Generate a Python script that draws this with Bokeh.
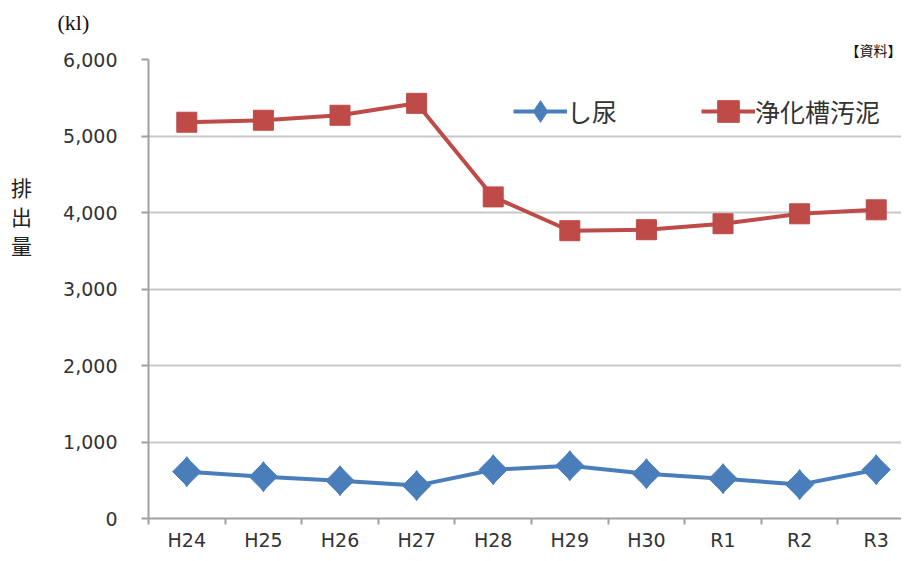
import math
from bokeh.plotting import figure
from bokeh.models import (Range1d, FixedTicker, NumeralTickFormatter, Legend, LegendItem, Title)
from bokeh.embed import file_html
from bokeh.resources import INLINE

categories = ["H24", "H25", "H26", "H27", "H28", "H29", "H30", "R1", "R2", "R3"]
shinyo = [612, 547, 495, 430, 638, 690, 586, 521, 443, 638]
johkaso = [5180, 5206, 5271, 5427, 4204, 3762, 3775, 3853, 3983, 4035]
y_ticks = [0, 1000, 2000, 3000, 4000, 5000, 6000]
series_names = ["し尿", "浄化槽汚泥"]
unit_text = "(kl)"
y_title = "排出量"
source_text = "【資料】"

BLUE = "#4a7ebb"
RED = "#be4b48"
AXIS = "#a0a0a0"

xs = [i + 0.5 for i in range(len(categories))]

p = figure(width=901, height=553, output_backend="svg", toolbar_location=None,
           x_range=Range1d(0, 9.83), y_range=Range1d(0, 6000),
           min_border_left=148, min_border_right=0, min_border_top=59, min_border_bottom=33)
p.outline_line_color = None
p.background_fill_color = "white"

# unit text (outer title row, left of the frame); source text (inner row, right)
p.title.text = unit_text
p.title.align = "left"
p.title.offset = -91
p.title.standoff = 6
p.title.text_font = "Liberation Serif"
p.title.text_font_size = "22px"
p.title.text_font_style = "normal"
p.title.text_color = "#111111"
p.add_layout(Title(text=source_text, align="right", standoff=0,
                   text_font="Noto Sans CJK JP", text_font_size="14px",
                   text_font_style="normal", text_color="#111111"), "above")

# axes
xa = p.xaxis[0]
xa.ticker = FixedTicker(ticks=xs, minor_ticks=list(range(len(categories) + 1)))
xa.major_label_overrides = {x: c for x, c in zip(xs, categories)}
xa.major_tick_line_color = None
xa.minor_tick_line_color = AXIS
xa.minor_tick_line_width = 2
xa.minor_tick_out = 6
xa.minor_tick_in = 0
xa.axis_line_color = AXIS
xa.axis_line_width = 2
xa.major_label_text_font = "DejaVu Sans"
xa.major_label_text_font_size = "19px"
xa.major_label_text_color = "#333333"
xa.major_label_standoff = 4

ya = p.yaxis[0]
ya.ticker = FixedTicker(ticks=y_ticks, minor_ticks=[])
ya.formatter = NumeralTickFormatter(format="0,0")
ya.major_tick_line_color = AXIS
ya.major_tick_line_width = 2
ya.major_tick_out = 7
ya.major_tick_in = 0
ya.minor_tick_line_color = None
ya.axis_line_color = AXIS
ya.axis_line_width = 2
ya.major_label_text_font = "DejaVu Sans"
ya.major_label_text_font_size = "19px"
ya.major_label_text_color = "#333333"
ya.major_label_standoff = 24
# vertical stacked axis title, pushed upward by trailing empty lines
ya.axis_label = "\n".join(list(y_title)) + "\n" * 5
ya.axis_label_orientation = "horizontal"
ya.axis_label_standoff = 28
ya.axis_label_text_font = "Noto Sans CJK JP"
ya.axis_label_text_font_size = "21px"
ya.axis_label_text_font_style = "normal"
ya.axis_label_text_color = "#222222"
ya.axis_label_text_line_height = 0.97

p.xgrid.visible = False
p.ygrid.grid_line_color = "#c8c8c8"
p.ygrid.grid_line_width = 2

# series
lb = p.line(xs, shinyo, line_color=BLUE, line_width=4)
sb_sq = p.scatter(xs, shinyo, marker="square", angle=math.pi / 4, size=20,
                  fill_color=BLUE, line_color=BLUE)
sb = p.scatter(xs, shinyo, marker="diamond", size=30, fill_color=BLUE, line_color=BLUE)
lr = p.line(xs, johkaso, line_color=RED, line_width=4)
sr = p.scatter(xs, johkaso, marker="square", size=20, fill_color=RED, line_color=RED)

legend = Legend(items=[LegendItem(label=series_names[0], renderers=[lb, sb]),
                       LegendItem(label=series_names[1], renderers=[lr, sr])],
                orientation="horizontal", location=(365, 380),
                glyph_width=54, glyph_height=54, label_standoff=0, spacing=84,
                padding=0, margin=0, border_line_color=None, background_fill_alpha=0,
                label_text_font="Noto Sans CJK JP", label_text_font_size="25px",
                label_text_color="#333333")
p.add_layout(legend, "center")

open("out.html", "w").write(file_html(p, INLINE))
